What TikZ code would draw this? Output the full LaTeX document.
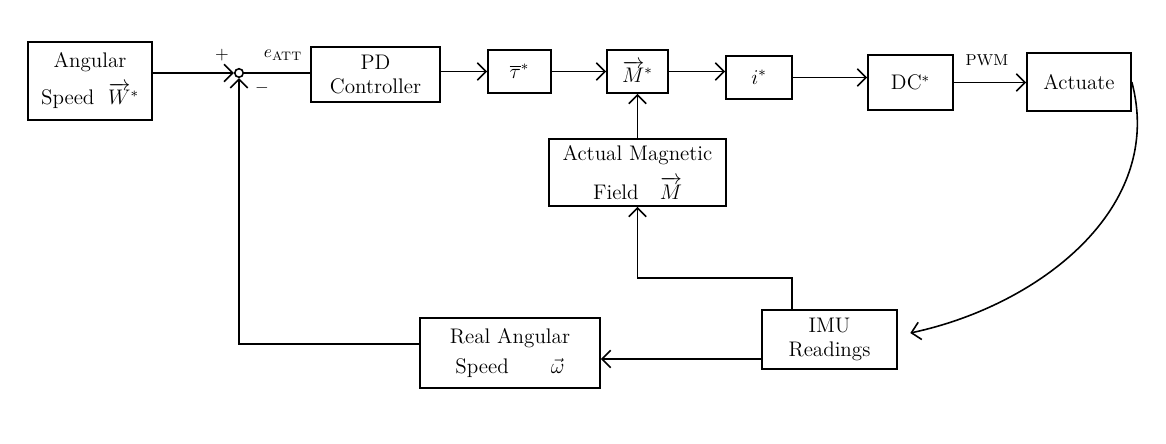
\documentclass[tikz,border=0pt]{standalone}
\usepackage{amsmath, amssymb}
\usetikzlibrary{arrows.meta}

\tikzset{
  block/.style={draw, line width=0.9pt, align=center, font=\large},
  flow/.style={line width=0.9pt, -{Straight Barb[length=5pt,width=10pt]}},
  wire/.style={line width=0.9pt},
}

\begin{document}
\begin{tikzpicture}
\useasboundingbox (0,0) rectangle (23.32,8.86);
% forward path
\node[block, minimum width=2.48cm, minimum height=1.56cm] (ref) at (1.80,7.24) {Angular\\[5pt]Speed\ \ $\overrightarrow{W}^{*}$};
\node[draw, circle, line width=0.9pt, inner sep=0pt, minimum size=0.17cm] (sum) at (4.78,7.40) {};
\node[block, minimum width=2.58cm, minimum height=1.10cm] (pd) at (7.51,7.37) {PD\\Controller};
\node[block, minimum width=1.26cm, minimum height=0.86cm] (tau) at (10.39,7.43) {$\overline{\tau}^{*}$};
\node[block, minimum width=1.22cm, minimum height=0.86cm] (mref) at (12.75,7.43) {$\overrightarrow{M}^{*}$};
\node[block, minimum width=1.32cm, minimum height=0.86cm] (iref) at (15.18,7.31) {$i^{*}$};
\node[block, minimum width=1.70cm, minimum height=1.10cm] (dc) at (18.21,7.21) {DC$^{*}$};
\node[block, minimum width=2.08cm, minimum height=1.16cm] (act) at (21.58,7.22) {Actuate};
% feedback path
\node[block, minimum width=3.54cm, minimum height=1.34cm] (field) at (12.75,5.41) {Actual Magnetic\\[6pt]Field\quad$\overrightarrow{M}$};
\node[block, minimum width=2.70cm, minimum height=1.18cm] (imu) at (16.59,2.07) {IMU\\Readings};
\node[block, minimum width=3.60cm, minimum height=1.40cm] (real) at (10.20,1.80) {Real Angular\\[3pt]Speed\qquad$\vec{\omega}$};

\node (plus) at (4.44,7.76) {$+$};
\node (minus) at (5.24,7.10) {$-$};
\node (eatt) at (5.66,7.76) {$e_{\mathrm{ATT}}$};
\node (pwm) at (19.74,7.66) {\small PWM};

\draw[flow] (ref.east |- sum) -- (sum);
\draw[wire] (sum) -- (pd.west |- sum);
\draw[flow] (pd.east |- tau) -- (tau);
\draw[flow] (tau) -- (mref);
\draw[flow] (mref.east) -- (iref.west |- mref.east);
\draw[flow] (iref.east) -- (dc.west |- iref.east);
\draw[flow] (dc.east) -- (act.west |- dc.east);
\draw[flow] (act.east) to[out=-75, in=12] ([xshift=0.25cm, yshift=0.13cm]imu.east);

\coordinate (tap) at (15.84,3.30); % approx
\draw[flow] (imu.north -| tap) -- (tap) -| (field.south);
\draw[flow] (field) -- (mref);
\draw[flow] ([yshift=-0.39cm]imu.west) -- ([yshift=-0.39cm]imu.west -| real.east);
\draw[flow] ([yshift=0.18cm]real.west) -| (sum.south);
\end{tikzpicture}
\end{document}
